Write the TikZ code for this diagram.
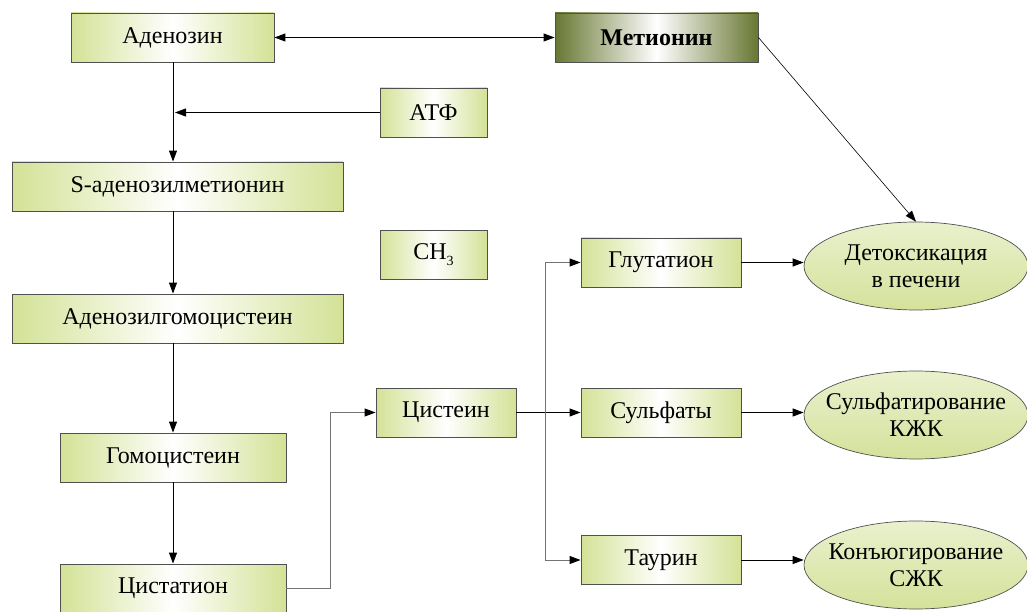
\documentclass[tikz,border=0pt]{standalone}
\usepackage{fontspec}
\setmainfont{Liberation Serif}
\usetikzlibrary{arrows.meta,shapes.geometric}

\definecolor{boxgreen}{RGB}{211,226,150}
\definecolor{olive}{RGB}{104,119,50}
\definecolor{ellgreen}{RGB}{212,226,155}
\definecolor{boxline}{RGB}{80,80,80}

\tikzset{
  stepbox/.style={draw=boxline, line width=0.9pt, left color=boxgreen, right color=boxgreen, middle color=white,
    minimum height=49pt, inner sep=0pt, font=\fontsize{24}{26}\selectfont},
  metbox/.style={stepbox, left color=olive, right color=olive, middle color=white, font=\fontsize{24}{26}\selectfont\bfseries},
  effect/.style={ellipse, draw=boxline, line width=0.7pt, top color=ellgreen!50, bottom color=ellgreen,
    minimum width=224pt, minimum height=88pt, inner xsep=-16pt, inner ysep=0pt, align=center,
    font=\fontsize{24}{27}\selectfont},
  link/.style={line width=1pt, black},
  thinlink/.style={line width=0.9pt, black!55}
}

\begin{document}
\begin{tikzpicture}[x=1pt, y=-1pt, >={Triangle[length=11pt,width=8pt,black]}]
            \useasboundingbox (0,0) rectangle (1027,612);
            % left column
            \node[stepbox, minimum width=203pt] (aden) at (172.5,37.5) {Аденозин};
            \node[metbox, minimum width=203pt] (met) at (656.5,37.5) {Метионин};
            \node[stepbox, minimum width=107pt] (atf) at (433.5,112.5) {АТФ};
            \node[stepbox, minimum width=331pt] (sam) at (177.5,186.5) {S-аденозилметионин};
            \node[stepbox, minimum width=107pt] (ch) at (433.5,255) {CH\raisebox{-0.55ex}{\fontsize{14}{14}\selectfont 3}};
            \node[stepbox, minimum width=331pt] (sah) at (177.5,318.5) {Аденозилгомоцистеин};
            \node[stepbox, minimum width=226pt] (hcy) at (173,457.5) {Гомоцистеин};
            \node[stepbox, minimum width=226pt] (cysta) at (173,588.5) {Цистатион};
            % right part
            \node[stepbox, minimum width=140pt] (cys) at (446,412.5) {Цистеин};
            \node[stepbox, minimum width=160pt] (glu) at (661,262.5) {Глутатион};
            \node[stepbox, minimum width=160pt] (sulf) at (661,412.5) {Сульфаты};
            \node[stepbox, minimum width=160pt] (taur) at (661,560) {Таурин};
            \node[effect] (detox) at (916,266) {Детоксикация\\в печени};
            \node[effect] (sulfat) at (916,415) {Сульфатирование\\КЖК};
            \node[effect] (conj) at (916,565) {Конъюгирование\\СЖК};

            \coordinate (br) at (545,412.5);

            \draw[link, <->] (aden) -- (met);
            \draw[link, ->] (aden.south -| 173,0) -- (sam.north -| 173,0);
            \draw[link, ->] (atf) -- (atf -| 175,0);
            \draw[link, ->] (sam.south -| 173,0) -- (sah.north -| 173,0);
            \draw[link, ->] (sah.south -| 173,0) -- (hcy.north -| 173,0);
            \draw[link, ->] (hcy) -- (cysta);
            \draw[thinlink, ->] (cysta.east) -- ++(44,0) |- (cys.west);
            \draw[link, ->] (cys) -- (sulf);
            \draw[thinlink, ->] (br) |- (glu.west);
            \draw[thinlink, ->] (br) |- (taur.west);
            \draw[link, ->] (glu.east) -- (glu.east -| detox.west);
            \draw[link, ->] (sulf.east) -- (sulf.east -| sulfat.west);
            \draw[link, ->] (taur.east) -- (taur.east -| conj.west);
            \draw[line width=0.6pt, ->] (met.east) -- (detox.north);
      \end{tikzpicture}
\end{document}
